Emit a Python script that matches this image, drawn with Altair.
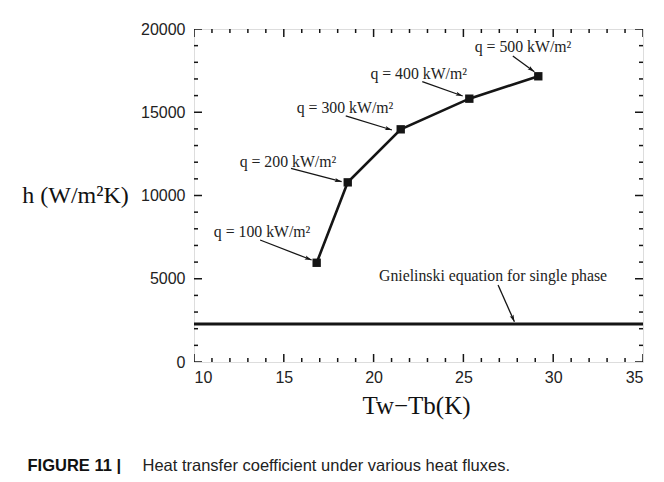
import math
import altair as alt
import pandas as pd

# ---- data ----
dT = [16.83, 18.56, 21.51, 25.33, 29.17]
h_vals = [5960, 10790, 13975, 15815, 17160]
q_labels = ["q = 100 kW/m²", "q = 200 kW/m²", "q = 300 kW/m²", "q = 400 kW/m²", "q = 500 kW/m²"]
label_x = [13.79, 15.23, 18.41, 22.51, 28.32]
label_y = [7826, 12012, 15237, 17279, 18919]
tail_x = [13.68, 15.40, 18.45, 22.71, 27.75]
tail_y = [7327, 11633, 14775, 16835, 18378]
tip_x = [16.55, 18.22, 21.02, 24.96, 28.95]
tip_y = [6126, 10829, 13934, 15976, 17436]

gn_h = [2280]
gn_label = ["Gnielinski equation for single phase"]
gn_label_x = [26.65]
gn_label_y = [5165]
gn_tail_x = [26.93]
gn_tail_y = [4624]
gn_tip_x = [27.84]
gn_tip_y = [2420]

x_major = [10, 15, 20, 25, 30, 35]
x_minor = [11, 12, 13, 14, 16, 17, 18, 19, 21, 22, 23, 24, 26, 27, 28, 29, 31, 32, 33, 34]
y_major = [0, 5000, 10000, 15000, 20000]
y_minor = [1000, 2000, 3000, 4000, 6000, 7000, 8000, 9000, 11000, 12000, 13000, 14000,
           16000, 17000, 18000, 19000]

caption_bold = "FIGURE 11 |"
caption_text = "Heat transfer coefficient under various heat fluxes."

# ---- layout ----
W, H = 449, 333
XD = [10, 35]
YD = [0, 20000]
SERIF = "Liberation Serif"
SANS = "Liberation Sans"
INK = "#151515"

xs = alt.Scale(domain=XD, nice=False, zero=False)
ys = alt.Scale(domain=YD, nice=False, zero=False)

pts = pd.DataFrame({"x": dT, "h": h_vals})

ann = pd.DataFrame({
    "lx": label_x + gn_label_x, "ly": label_y + gn_label_y, "text": q_labels + gn_label,
    "x0": tail_x + gn_tail_x, "y0": tail_y + gn_tail_y,
    "x1": tip_x + gn_tip_x, "y1": tip_y + gn_tip_y,
})

def head_angle(r):
    dx = (r.x1 - r.x0) / (XD[1] - XD[0]) * W
    dy = -(r.y1 - r.y0) / (YD[1] - YD[0]) * H
    return math.degrees(math.atan2(dx, -dy)) % 360

ann["ang"] = ann.apply(head_angle, axis=1)

x_axis = alt.Axis(values=x_major, ticks=False, domain=False, grid=False,
                  labelFont=SANS, labelFontSize=16, labelColor="#222", labelPadding=7,
                  title="Tw−Tb(K)", titleFont=SERIF, titleFontSize=25,
                  titleFontWeight="normal", titleColor="#111",
                  titleX=222, titleY=43, titleBaseline="middle", titleAlign="center")
y_axis = alt.Axis(values=y_major, format="d", ticks=False, domain=False, grid=False,
                  labelFont=SANS, labelFontSize=16, labelColor="#222", labelPadding=9,
                  title="h (W/m²K)", titleFont=SERIF, titleFontSize=24,
                  titleFontWeight="normal", titleColor="#111", titleAngle=0,
                  titleX=-119, titleY=166, titleBaseline="middle", titleAlign="center")
# figure caption, carried by two otherwise empty axes
cap_axis = alt.Axis(orient="right", labels=False, ticks=False, domain=False, grid=False,
                    title=caption_text, titleFont=SANS, titleFontSize=16.5,
                    titleFontWeight="normal", titleColor="#222", titleAngle=0,
                    titleX=-501, titleY=436, titleBaseline="middle", titleAlign="left")
cap_bold_axis = alt.Axis(orient="top", labels=False, ticks=False, domain=False, grid=False,
                         title=caption_bold, titleFont=SANS, titleFontSize=16.5,
                         titleFontWeight="bold", titleColor="#111", titleAngle=0,
                         titleX=-167, titleY=436, titleBaseline="middle", titleAlign="left")

line = alt.Chart(pts).mark_line(color=INK, strokeWidth=2.6).encode(
    x=alt.X("x:Q", scale=xs, axis=x_axis), y=alt.Y("h:Q", scale=ys, axis=y_axis))
marks = alt.Chart(pts).mark_point(shape="square", filled=True, size=70, color=INK, opacity=1).encode(
    x=alt.X("x:Q", axis=cap_bold_axis), y=alt.Y("h:Q", axis=None))

gn = alt.Chart(pd.DataFrame({"h": gn_h})).mark_rule(color=INK, strokeWidth=3).encode(
    y=alt.Y("h:Q", axis=cap_axis))

arrows = alt.Chart(ann).mark_rule(color=INK, strokeWidth=1.3).encode(
    x=alt.X("x0:Q", axis=None), y=alt.Y("y0:Q", axis=None), x2="x1", y2="y1")
heads = alt.Chart(ann).mark_point(
    shape="M0,0L-0.65,2.2L0,1.7L0.65,2.2Z", filled=True, size=40, color=INK, opacity=1
).encode(x=alt.X("x1:Q", axis=None), y=alt.Y("y1:Q", axis=None),
         angle=alt.Angle("ang:Q", scale=None))
texts = alt.Chart(ann).mark_text(font=SERIF, fontSize=15.8, color="#222", baseline="middle",
                                 align="center").encode(
    x=alt.X("lx:Q", axis=None), y=alt.Y("ly:Q", axis=None), text="text:N")

# inward ticks on all four sides (clipped to the frame)
tick_layers = []
for vals, sz in [(x_major, 16), (x_minor, 8)]:
    for edge in YD:
        tick_layers.append(alt.Chart(pd.DataFrame({"v": vals}))
                           .mark_tick(orient="vertical", size=sz, thickness=1.5,
                                      color=INK, clip=True, opacity=1)
                           .encode(x=alt.X("v:Q", axis=None), y=alt.YDatum(edge, axis=None)))
for vals, sz in [(y_major, 16), (y_minor, 8)]:
    for edge in XD:
        tick_layers.append(alt.Chart(pd.DataFrame({"v": vals}))
                           .mark_tick(orient="horizontal", size=sz, thickness=1.5,
                                      color=INK, clip=True, opacity=1)
                           .encode(y=alt.Y("v:Q", axis=None), x=alt.XDatum(edge, axis=None)))

chart = alt.layer(line, gn, arrows, heads, marks, texts, *tick_layers).resolve_axis(
    x="independent", y="independent"
).properties(
    width=W, height=H,
    autosize=alt.AutoSizeParams(type="none"),
    padding={"left": 194, "top": 29, "right": 21, "bottom": 120},
).configure_view(stroke="#111", strokeWidth=2).configure(background="white")

chart.save("out.html", embed_options={"renderer": "svg", "actions": False})
